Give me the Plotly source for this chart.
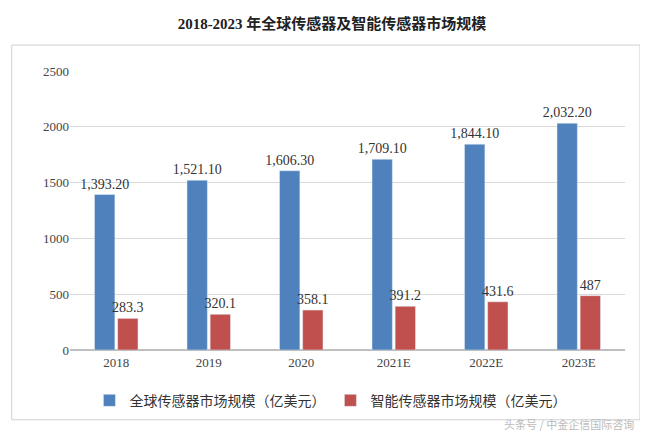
import plotly.graph_objects as go

years = ["2018", "2019", "2020", "2021E", "2022E", "2023E"]
global_vals = [1393.2, 1521.1, 1606.3, 1709.1, 1844.1, 2032.2]
smart_vals = [283.3, 320.1, 358.1, 391.2, 431.6, 487]
global_labels = ["1,393.20", "1,521.10", "1,606.30", "1,709.10", "1,844.10", "2,032.20"]
smart_labels = ["283.3", "320.1", "358.1", "391.2", "431.6", "487"]

serif = "Liberation Serif, Noto Sans CJK SC"
fig = go.Figure()
fig.add_bar(x=years, y=global_vals, name="全球传感器市场规模（亿美元）", marker_color="#4F81BD",
            text=global_labels, textposition="outside", constraintext="none",
            textfont=dict(size=14, color="#333"), cliponaxis=False)
fig.add_bar(x=years, y=smart_vals, name="智能传感器市场规模（亿美元）", marker_color="#C0504D",
            text=smart_labels, textposition="outside", constraintext="none",
            textfont=dict(size=14, color="#333"), cliponaxis=False)
fig.update_layout(
    width=648, height=434, plot_bgcolor="white", paper_bgcolor="white",
    margin=dict(l=62, r=31, t=63, b=92, autoexpand=False),
    barmode="group", bargap=0.5, bargroupgap=0.12,
    font=dict(family=serif, size=13, color="#444"),
    title=dict(text="<b>2018-2023 年全球传感器及智能传感器市场规模</b>", x=0.5, y=0.975, xanchor="center",
               font=dict(size=15, color="#222", family=serif)),
    yaxis=dict(range=[0, 2500], dtick=500, showgrid=True, gridcolor="#d9d9d9", zeroline=True,
               zerolinecolor="#bfbfbf", tickfont=dict(size=13)),
    xaxis=dict(showline=True, linecolor="#bfbfbf", tickfont=dict(size=13)),
    legend=dict(orientation="h", x=0.035, y=0.095, yref="container", xanchor="left", yanchor="middle",
                font=dict(size=14, color="#333", family=serif), traceorder="normal", itemwidth=30),
    shapes=[dict(type="rect", xref="paper", yref="paper", x0=-0.105, x1=1.027, y0=-0.25, y1=1.093,
                 line=dict(color="#d0d0d0", width=1))],
    annotations=[dict(text="头条号 / 中金企信国际咨询", xref="paper", yref="paper", x=1.02, y=-0.30,
                      xanchor="right", yanchor="bottom", showarrow=False,
                      font=dict(size=11, color="#bbb", family="Noto Sans CJK SC"))],
)
fig.write_html("out.html")
